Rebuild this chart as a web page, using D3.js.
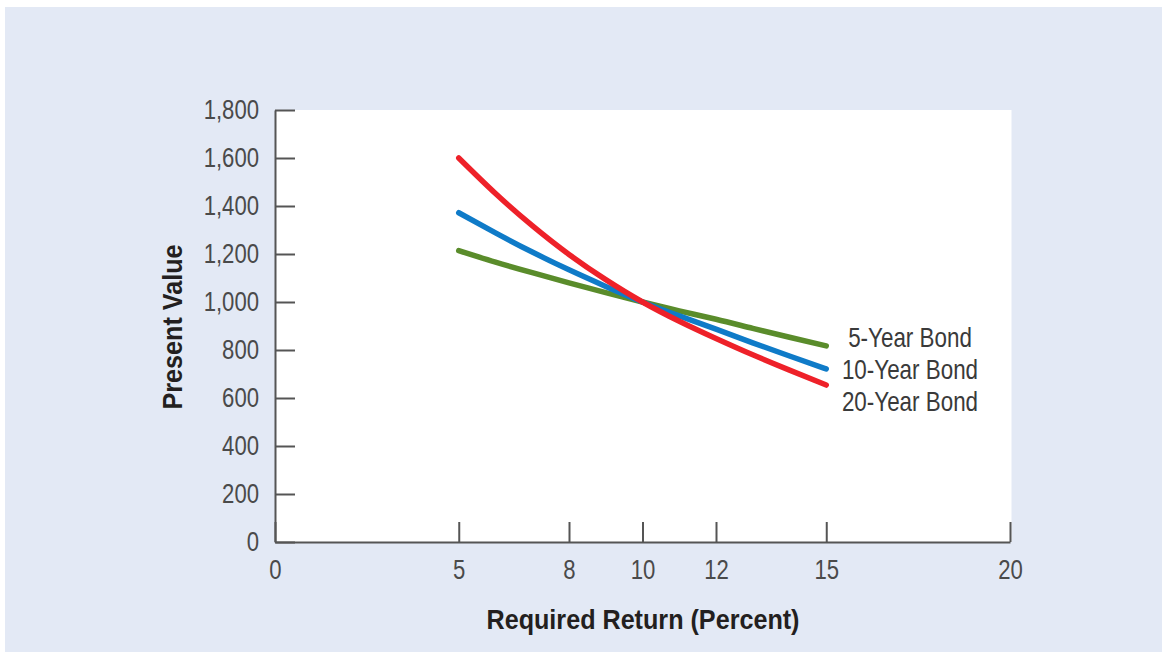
<!DOCTYPE html>
<html>
<head>
<meta charset="utf-8">
<script src="https://cdn.jsdelivr.net/npm/d3@7/dist/d3.min.js"></script>
<style>
  html, body { margin: 0; padding: 0; background: #ffffff; }
  svg { display: block; }
</style>
</head>
<body>
<svg id="chart" width="1162" height="652"></svg>
<script>
// ---- data ----
const rates = [5, 6, 7, 8, 9, 10, 11, 12, 13, 14, 15];
const bond5  = [1214, 1166, 1122, 1080, 1039, 1000, 963, 928, 890, 853, 817];
const bond10 = [1372, 1288, 1208, 1134, 1065, 1000, 942, 887, 830, 775, 721];
const bond20 = [1600, 1452, 1318, 1198, 1093, 1000, 920, 848, 780, 716, 654];
const seriesNames = ["5-Year Bond", "10-Year Bond", "20-Year Bond"];
const xTicks = [0, 5, 8, 10, 12, 15, 20];
const yTicks = [0, 200, 400, 600, 800, 1000, 1200, 1400, 1600, 1800];

const colors = ["#5a8c2b", "#0f7bc8", "#ee2129"];
const font = '"Liberation Sans", Arial, sans-serif';

const svg = d3.select("#chart");
const W = 1162, H = 652;
const m = { left: 275, right: 1010, top: 110, bottom: 542 };

function condense(sel, f) {
  sel.each(function () {
    const L = this.getComputedTextLength();
    d3.select(this).attr("textLength", L * f).attr("lengthAdjust", "spacingAndGlyphs");
  });
}

// background panel
svg.append("rect").attr("x", 5).attr("y", 7).attr("width", W - 5).attr("height", H - 7)
  .attr("fill", "#e3e9f5");
// plot area
svg.append("rect").attr("x", m.left).attr("y", m.top)
  .attr("width", 1011.5 - m.left).attr("height", m.bottom - m.top).attr("fill", "#ffffff");

const x = d3.scaleLinear().domain([0, 20]).range([m.left, m.right]);
const y = d3.scaleLinear().domain([0, 1800]).range([m.bottom, m.top]);

// y axis
const yAxis = svg.append("g").attr("transform", `translate(${m.left},0)`)
  .call(d3.axisLeft(y).tickValues(yTicks).tickFormat(d3.format(",")).tickSizeInner(-20).tickSizeOuter(0).tickPadding(16));
// x axis
const xAxis = svg.append("g").attr("transform", `translate(0,${m.bottom})`)
  .call(d3.axisBottom(x).tickValues(xTicks).tickFormat(d3.format("d")).tickSizeInner(-20).tickSizeOuter(0).tickPadding(17));

[yAxis, xAxis].forEach(g => {
  g.select(".domain").attr("stroke", "#555555").attr("stroke-width", 2);
  g.selectAll(".tick line").attr("stroke", "#555555").attr("stroke-width", 2);
  g.selectAll(".tick text").attr("fill", "#4a4a4a").style("font-size", "28px").style("font-family", font);
  condense(g.selectAll(".tick text"), 0.79);
});

// lines
const all = [bond5, bond10, bond20];
const line = d3.line().x((d, i) => x(rates[i])).y(d => y(d)).curve(d3.curveNatural);
all.forEach((s, k) => {
  svg.append("path").datum(s).attr("d", line)
    .attr("fill", "none").attr("stroke", colors[k]).attr("stroke-width", 5.5)
    .attr("stroke-linecap", "round").attr("stroke-linejoin", "round");
});

// series labels
const labelY = [337, 369, 401];
seriesNames.forEach((n, k) => {
  const t = svg.append("text").attr("x", 910).attr("y", labelY[k]).attr("dy", "0.36em")
    .attr("text-anchor", "middle").attr("fill", "#3a3a3a")
    .style("font-family", font).style("font-size", "28px").text(n);
  condense(t, 0.8);
});

// axis titles
const t1 = svg.append("text").attr("x", 643).attr("y", 629).attr("text-anchor", "middle")
  .attr("fill", "#231f20").style("font-family", font).style("font-weight", "bold")
  .style("font-size", "28px").text("Required Return (Percent)");
t1.attr("textLength", 313).attr("lengthAdjust", "spacingAndGlyphs");
const t2 = svg.append("text").attr("transform", "translate(182,327) rotate(-90)").attr("text-anchor", "middle")
  .attr("fill", "#231f20").style("font-family", font).style("font-weight", "bold")
  .style("font-size", "28px").text("Present Value");
t2.attr("textLength", 165).attr("lengthAdjust", "spacingAndGlyphs");
</script>
</body>
</html>
